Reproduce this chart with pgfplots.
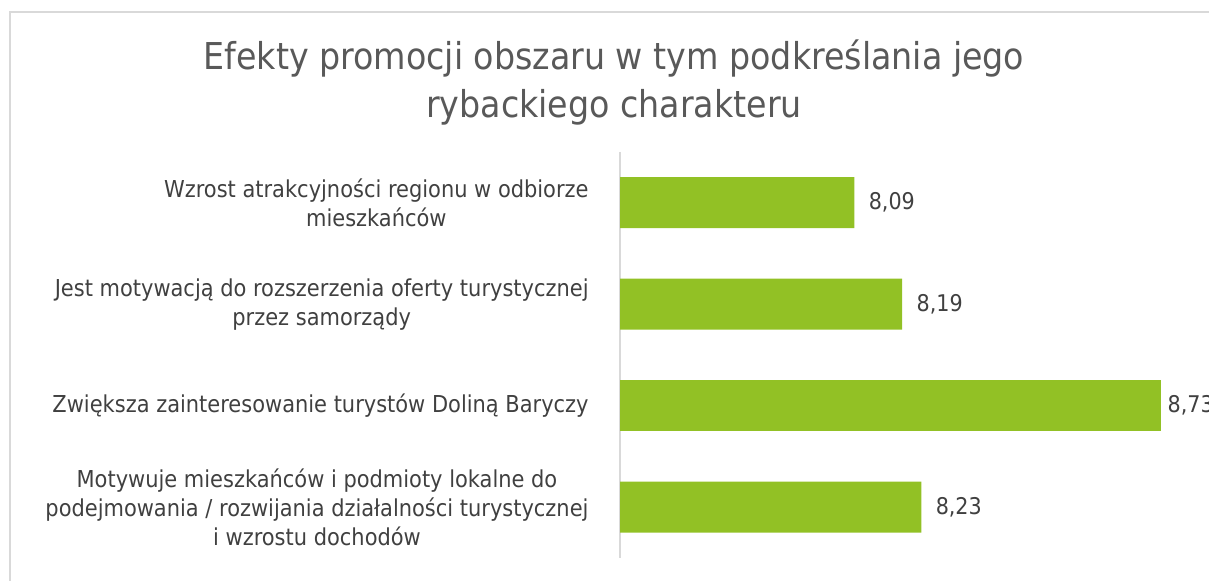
\documentclass[border=0pt]{standalone}
\usepackage{fontspec}
\setmainfont{DejaVu Sans Condensed}
\usepackage{pgfplots}
\pgfplotsset{compat=1.18}
\definecolor{bargreen}{HTML}{92C125}
\definecolor{txt}{HTML}{404040}
\definecolor{ttl}{HTML}{595959}
\definecolor{brd}{HTML}{D9D9D9}
\begin{document}
\begin{tikzpicture}[x=0.5pt,y=0.5pt]
\useasboundingbox (0,0) rectangle (1209,581);
\draw[brd, line width=1pt] (9.5,-10) -- (9.5,569) -- (1230,569);
\node[text=ttl, font=\fontsize{18.5}{24}\selectfont, align=center] at (614,498) {Efekty promocji obszaru w tym podkreślania jego\\rybackiego charakteru};
\coordinate (A) at (620,23);
\begin{axis}[
  at={(A)}, anchor=south west,
  scale only axis, width=287pt, height=203pt,
  xbar, bar width=25.5pt, bar shift=0pt,
  xmin=7.6, xmax=8.8, ymin=-0.5, ymax=3.5, y dir=reverse,
  axis x line=none, axis y line*=left,
  y axis line style={draw=brd, line width=1pt, -},
  ytick={0,1,2,3}, major tick length=0pt,
  yticklabels={{Wzrost atrakcyjności regionu w odbiorze\\mieszkańców},
    {Jest motywacją do rozszerzenia oferty turystycznej\\przez samorządy},
    {Zwiększa zainteresowanie turystów Doliną Baryczy},
    {Motywuje mieszkańców i podmioty lokalne do\\podejmowania / rozwijania działalności turystycznej\\i wzrostu dochodów}},
  yticklabel style={align=center, text=txt, font=\fontsize{11.65}{14.5}\selectfont, inner sep=0pt, xshift=-15.5pt},
  /pgf/number format/assume math mode=true,
  /pgf/number format/.cd, use comma, fixed, fixed zerofill, precision=2, /pgfplots/.cd,
  nodes near coords,
  nodes near coords style={text=txt, font=\fontsize{11.5}{14}\selectfont, anchor=west, inner sep=0pt, xshift=7pt},
  clip=false,
]
\addplot[fill=bargreen, draw=none] coordinates {(8.09,0) (8.19,1) (8.23,3)};
\addplot[fill=bargreen, draw=none, nodes near coords style={xshift=-3.65pt}] coordinates {(8.73,2)};
\end{axis}
\end{tikzpicture}
\end{document}
